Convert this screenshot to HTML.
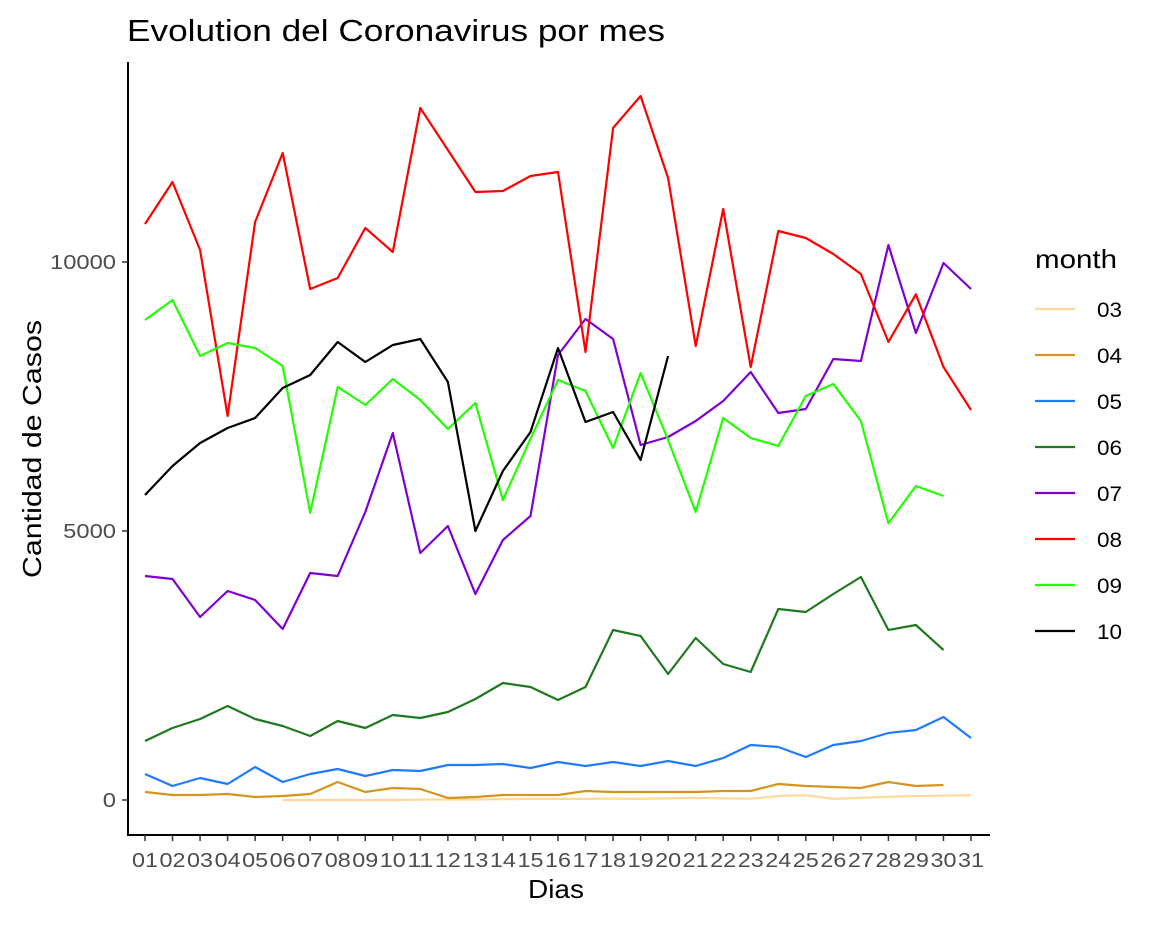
<!DOCTYPE html>
<html><head><meta charset="utf-8"><style>
body{margin:0;background:#fff}
svg{font-family:"Liberation Sans",Arial,sans-serif}
</style></head><body>
<svg id="chart" width="1152" height="921">
<text x="127" y="41" font-size="31" textLength="538" lengthAdjust="spacingAndGlyphs" fill="#000">Evolution del Coronavirus por mes</text>
<line x1="128" y1="62" x2="128" y2="835" stroke="#000" stroke-width="2"/>
<line x1="127" y1="835" x2="990" y2="835" stroke="#000" stroke-width="2"/>
<text transform="translate(41,449) rotate(-90)" text-anchor="middle" font-size="26" textLength="258" lengthAdjust="spacingAndGlyphs">Cantidad de Casos</text>
<text x="556" y="898" text-anchor="middle" font-size="26" textLength="56" lengthAdjust="spacingAndGlyphs">Dias</text>
<g id="yticks"></g><g id="xticks"></g><g id="series"></g><g id="legend"></g>
<text x="1035" y="268" font-size="26" textLength="82" lengthAdjust="spacingAndGlyphs">month</text>
</svg>
<script>
const days=['01','02','03','04','05','06','07','08','09','10','11','12','13','14','15','16','17','18','19','20','21','22','23','24','25','26','27','28','29','30','31'];
const yTicks=[0,5000,10000];
const months=['03','04','05','06','07','08','09','10'];
const colors=['#ffd89a','#d4951c','#1e7bff','#1f7a1f','#8000d4','#ff0000','#22ff00','#000000'];
const m03=[null,null,null,null,null,0,0,0,0,0,5,10,10,15,20,20,20,25,20,30,40,30,25,75,90,20,40,60,75,80,90];
const m04=[149,93,93,112,56,74,112,335,149,223,204,37,56,93,93,93,167,149,149,149,149,167,167,297,260,242,223,335,260,279];
const m05=[483,260,409,297,613,334,483,576,446,558,539,651,651,669,595,706,632,706,632,725,632,781,1022,985,799,1022,1097,1245,1301,1543,1152];
const m06=[1097,1338,1506,1747,1506,1375,1190,1468,1338,1580,1524,1636,1877,2175,2100,1859,2100,3160,3048,2342,3011,2528,2379,3550,3494,3829,4145,3160,3253,2788];
const m07=[4164,4108,3401,3885,3717,3178,4219,4164,5353,6822,4591,5093,3829,4833,5279,8271,8941,8569,6599,6747,7045,7416,7955,7193,7268,8197,8160,10316,8680,9981,9498];
const m08=[10706,11487,10223,7138,10743,12026,9498,9703,10632,10186,12862,12082,11301,11320,11599,11673,8327,12491,13086,11561,8439,10985,8048,10576,10446,10149,9777,8513,9400,8048,7249];
const m09=[8922,9294,8253,8494,8401,8067,5336,7677,7342,7825,7435,6896,7379,5574,6713,7807,7602,6543,7937,6691,5353,7100,6729,6580,7509,7732,7045,5143,5836,5650];
const m10=[5669,6208,6636,6914,7100,7658,7900,8513,8141,8457,8569,7770,5000,6115,6840,8401,7026,7212,6320,8253];
const seriesData=[m03,m04,m05,m06,m07,m08,m09,m10];
const NS='http://www.w3.org/2000/svg';
const xs=i=>145+i*(971-145)/30;
const ys=v=>800-v*0.0538;
function mk(tag,attrs,parent){const e=document.createElementNS(NS,tag);for(const k in attrs)e.setAttribute(k,attrs[k]);parent.appendChild(e);return e;}
const yt=document.getElementById('yticks');
yTicks.forEach(v=>{
  const l=mk('line',{x1:122,x2:128,y1:ys(v),y2:ys(v),stroke:'#333','stroke-width':1.5},yt);
  
  
  const w=String(v).length*13.2;
  const t=mk('text',{x:116,y:ys(v)+7,'text-anchor':'end','font-size':20,fill:'#4d4d4d',textLength:w,lengthAdjust:'spacingAndGlyphs'},yt);
  t.textContent=v;
  
  
});
const xt=document.getElementById('xticks');
days.forEach((d,i)=>{
  const l=mk('line',{x1:xs(i),x2:xs(i),y1:835,y2:841,stroke:'#333','stroke-width':1.5},xt);
  
  
  const t=mk('text',{x:xs(i),y:867,'text-anchor':'middle','font-size':20,fill:'#4d4d4d',textLength:26,lengthAdjust:'spacingAndGlyphs'},xt);
  t.textContent=d;
  
  
});
const sg=document.getElementById('series');
seriesData.forEach((arr,k)=>{
  let d='';let pen=false;
  arr.forEach((v,i)=>{if(v===null){pen=false;return;}d+=(pen?'L':'M')+xs(i).toFixed(1)+','+ys(v).toFixed(1);pen=true;});
  const p=mk('path',{d:d,fill:'none',stroke:colors[k],'stroke-width':2.2,'stroke-linejoin':'round'},sg);
  
  
});
const lg=document.getElementById('legend');
months.forEach((m,k)=>{
  const y=309+k*46;
  const l=mk('line',{x1:1035,x2:1075,y1:y,y2:y,stroke:colors[k],'stroke-width':2.2},lg);
  
  
  const t=mk('text',{x:1097,y:y+8,'font-size':21,fill:'#000',textLength:25,lengthAdjust:'spacingAndGlyphs'},lg);
  t.textContent=m;
  
  
});
</script>
</body></html>
